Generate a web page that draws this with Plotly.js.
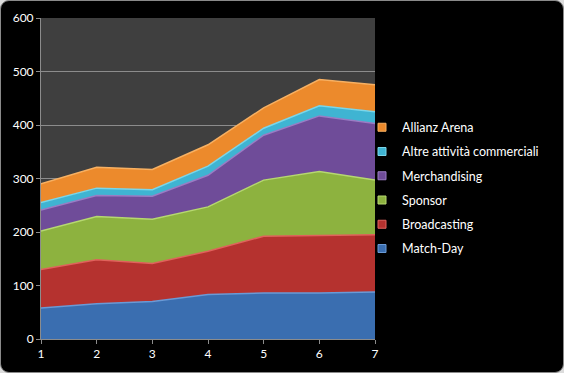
<!DOCTYPE html>
<html>
<head>
<meta charset="utf-8">
<script src="https://cdn.plot.ly/plotly-3.0.1.min.js"></script>
<style>
  html, body { margin: 0; padding: 0; background: #dcdcdc; }
  #wrap { position: relative; width: 564px; height: 373px; background: #000; border-radius: 9px; box-sizing: border-box; border: 1px solid #8a8a8a; overflow: hidden; }
  #chart { position: absolute; left: -1px; top: -1px; width: 564px; height: 373px; }
</style>
</head>
<body>
<div id="wrap"><div id="chart"></div></div>
<script>
const periods = [1, 2, 3, 4, 5, 6, 7];
const matchDay      = [58, 66, 70, 83, 86, 86, 88];
const broadcasting  = [72, 82, 71, 81, 106, 108, 107];
const sponsor       = [72, 81, 83, 83, 105, 119, 102];
const merchandising = [39, 39, 43, 59, 84, 104, 106];
const altre         = [14, 14, 12, 17, 13, 19, 22];
const allianz       = [35, 39, 38, 40, 38, 49, 50];

const seriesNames = ["Match-Day", "Broadcasting", "Sponsor", "Merchandising", "Altre attività commerciali", "Allianz Arena"];
const seriesValues = [matchDay, broadcasting, sponsor, merchandising, altre, allianz];
const fillColors = ["#3a6eb0", "#b5322f", "#8db23f", "#6f4c99", "#3fb4d2", "#ec8a2c"];
const lineColors = ["#6a9ad6", "#e0625c", "#b6d870", "#9a7cc4", "#7ad6ea", "#f7b062"];

const areaTraces = seriesNames.map((name, i) => ({
  x: periods,
  y: seriesValues[i],
  name: name,
  type: "scatter",
  mode: "lines",
  stackgroup: "one",
  showlegend: false,
  fillcolor: fillColors[i],
  line: { color: lineColors[i], width: 1.5 },
  hoverinfo: "x+y+name"
}));

// legend entries (small square keys like the original), no data drawn
const legendTraces = seriesNames.map((name, i) => ({
  x: [null],
  y: [null],
  name: name,
  type: "scatter",
  mode: "markers",
  legendgroup: "g" + i,
  legendrank: 100 - i,
  marker: { symbol: "square", size: 8, color: fillColors[i], line: { color: lineColors[i], width: 1 } },
  showlegend: true
}));

const tickFont = { family: "Lato, 'Open Sans', sans-serif", size: 12, color: "#ffffff" };

const layout = {
  width: 564,
  height: 373,
  margin: { l: 41, r: 189, t: 18, b: 34 },
  paper_bgcolor: "rgba(0,0,0,0)",
  plot_bgcolor: "#3f3f3f",
  showlegend: true,
  xaxis: {
    range: [1, 7],
    tickvals: periods,
    ticks: "outside",
    ticklen: 4,
    tickcolor: "#8c8c8c",
    showgrid: false,
    showline: true,
    linecolor: "#8c8c8c",
    zeroline: false,
    tickfont: tickFont
  },
  yaxis: {
    range: [0, 600],
    dtick: 100,
    ticks: "outside",
    ticklen: 4,
    tickcolor: "#8c8c8c",
    showgrid: true,
    gridcolor: "#8c8c8c",
    gridwidth: 1,
    showline: true,
    linecolor: "#8c8c8c",
    zeroline: false,
    tickfont: tickFont
  },
  legend: {
    x: (362 - 41) / 334,
    xanchor: "left",
    y: 0.47,
    yanchor: "middle",
    traceorder: "grouped",
    tracegroupgap: 5,
    bgcolor: "rgba(0,0,0,0)",
    font: { family: "Lato, 'Open Sans', sans-serif", size: 12.5, color: "#ffffff" }
  }
};

Plotly.newPlot("chart", areaTraces.concat(legendTraces), layout, { displayModeBar: false, staticPlot: true });
</script>
</body>
</html>
